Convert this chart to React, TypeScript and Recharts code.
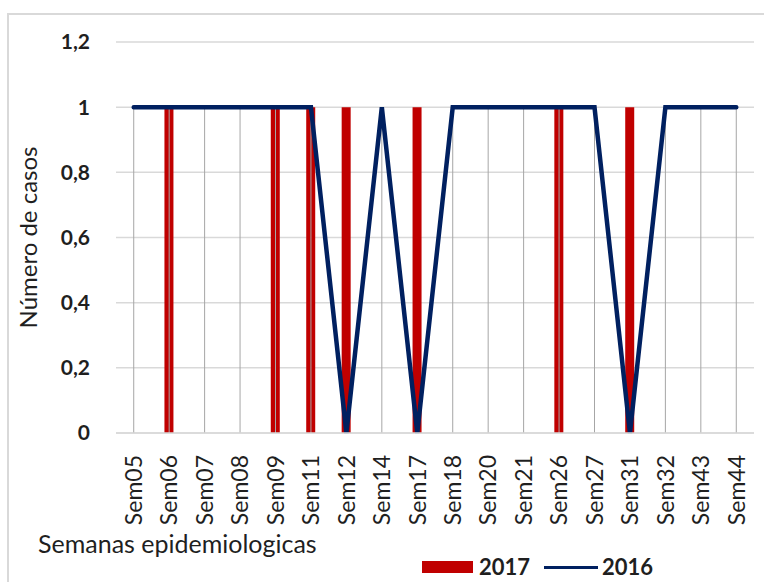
import { ComposedChart, Bar, Line, XAxis, YAxis, CartesianGrid, ErrorBar, Label } from 'recharts'

const weeks = ['Sem05', 'Sem06', 'Sem07', 'Sem08', 'Sem09', 'Sem11', 'Sem12', 'Sem14', 'Sem17', 'Sem18', 'Sem20', 'Sem21', 'Sem26', 'Sem27', 'Sem31', 'Sem32', 'Sem43', 'Sem44']
const cases2017 = [0, 1, 0, 0, 1, 1, 1, 0, 1, 0, 0, 0, 1, 0, 1, 0, 0, 0]
const cases2016 = [1, 1, 1, 1, 1, 1, 0, 1, 0, 1, 1, 1, 1, 1, 0, 1, 1, 1]
const yTicks = [0, 0.2, 0.4, 0.6, 0.8, 1, 1.2]

const data = weeks.map((w, i) => ({
  week: w,
  y2017: cases2017[i],
  y2016: cases2016[i],
  // drop line from the 2016 point down to the axis
  drop: [cases2016[i], 0],
}))

const font = 'Lato, "Open Sans", sans-serif'
const textColor = '#1f1f1f'

function WeekTick(props: any) {
  const { x, y, payload } = props
  return (
    <g transform={`translate(${x},${y})`}>
      <text
        transform="rotate(-90)"
        x={0}
        y={0}
        dy="0.36em"
        textAnchor="end"
        fontFamily={font}
        fontSize={23}
        fill={textColor}
      >
        {payload.value}
      </text>
    </g>
  )
}

export default function App() {
  return (
    <div style={{ position: 'absolute', left: 0, top: 0, width: 764, height: 582, background: '#fff', overflow: 'hidden' }}>
      <div style={{ position: 'absolute', left: 7, top: 13, width: 800, height: 620, border: '2px solid #d9d9d9', boxSizing: 'border-box' }} />
      <ComposedChart
        width={764}
        height={582}
        data={data}
        margin={{ top: 42, right: 10, bottom: 29, left: 0 }}
        style={{ position: 'absolute', left: 0, top: 0 }}
      >
        <CartesianGrid vertical={false} stroke="#d9d9d9" strokeWidth={1.5} />
        <XAxis
          dataKey="week"
          height={120}
          interval={0}
          tick={<WeekTick />}
          tickLine={false}
          tickSize={0}
          tickMargin={22}
          axisLine={{ stroke: '#d9d9d9', strokeWidth: 1.5 }}
        >
          <Label
            value="Semanas epidemiologicas"
            position="insideBottomLeft"
            offset={0}
            dx={-78}
            style={{ fontFamily: font, fontSize: 25, fill: textColor }}
          />
        </XAxis>
        <YAxis
          width={116}
          domain={[0, 1.2]}
          ticks={yTicks}
          interval={0}
          axisLine={false}
          tickLine={false}
          tickSize={0}
          tickMargin={26}
          tickFormatter={(v: number) => String(Math.round(v * 10) / 10).replace('.', ',')}
          tick={{ fontFamily: font, fontSize: 21, fontWeight: 'bold', fill: textColor }}
        >
          <Label
            value="Número de casos"
            angle={-90}
            position="insideLeft"
            offset={0}
            dx={28}
            style={{ fontFamily: font, fontSize: 24, fill: textColor, textAnchor: 'middle' }}
          />
        </YAxis>
        <Bar dataKey="y2017" name="2017" fill="#C00000" barSize={9} isAnimationActive={false} />
        <Line
          dataKey="y2016"
          name="2016"
          stroke="#002060"
          strokeWidth={4.5}
          strokeLinecap="round"
          dot={false}
          activeDot={false}
          isAnimationActive={false}
        >
          <ErrorBar dataKey="drop" direction="y" width={0} stroke="#a6a6a6" strokeWidth={1} />
        </Line>
      </ComposedChart>
      <div
        style={{
          position: 'absolute', left: 422, top: 553, display: 'flex', alignItems: 'center',
          fontFamily: font, fontSize: 22, fontWeight: 'bold', color: textColor, lineHeight: '28px',
        }}
      >
        <span style={{ display: 'inline-block', width: 51, height: 12, background: '#C00000', marginRight: 6 }} />
        <span style={{ marginRight: 14 }}>2017</span>
        <span style={{ display: 'inline-block', width: 54, height: 3, background: '#002060', marginRight: 4 }} />
        <span>2016</span>
      </div>
    </div>
  )
}
